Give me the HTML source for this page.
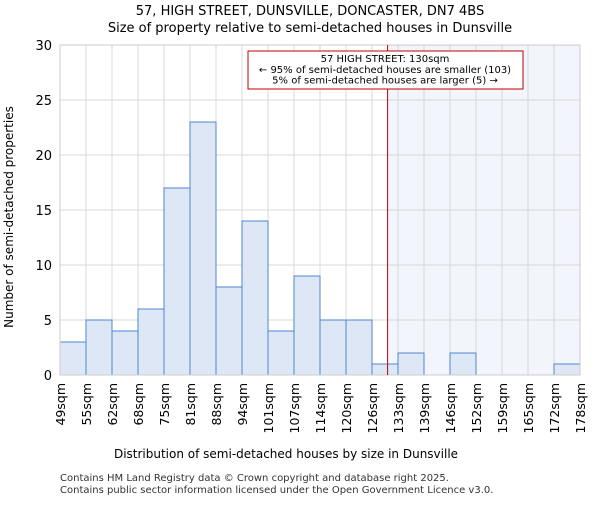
<!DOCTYPE html>
<html><head><meta charset="utf-8"><style>body{margin:0;background:#fff}svg{font-family:"DejaVu Sans","Liberation Sans",sans-serif}</style></head>
<body>
<svg id="c" width="600" height="500" xmlns="http://www.w3.org/2000/svg">
<text x="310" y="15" text-anchor="middle" font-size="13">57, HIGH STREET, DUNSVILLE, DONCASTER, DN7 4BS</text>
<text x="310" y="32" text-anchor="middle" font-size="13">Size of property relative to semi-detached houses in Dunsville</text>
<g id="plot"></g>
<text x="286" y="458" text-anchor="middle" font-size="12">Distribution of semi-detached houses by size in Dunsville</text>
<text transform="translate(13,217) rotate(-90)" text-anchor="middle" font-size="12">Number of semi-detached properties</text>
<text x="60" y="481" font-size="10" fill="#333">Contains HM Land Registry data © Crown copyright and database right 2025.</text>
<text x="60" y="493" font-size="10" fill="#333">Contains public sector information licensed under the Open Government Licence v3.0.</text>
</svg>
<script>
const categories=["49sqm","55sqm","62sqm","68sqm","75sqm","81sqm","88sqm","94sqm","101sqm","107sqm","114sqm","120sqm","126sqm","133sqm","139sqm","146sqm","152sqm","159sqm","165sqm","172sqm","178sqm"];
const counts=[3,5,4,6,17,23,8,14,4,9,5,5,1,2,0,2,0,0,0,1];
const yTicks=[0,5,10,15,20,25,30];
const markerIndex=12.6;
const annotation=["57 HIGH STREET: 130sqm","← 95% of semi-detached houses are smaller (103)","5% of semi-detached houses are larger (5) →"];
const NS="http://www.w3.org/2000/svg";
const L=60,R=580,T=45,B=375,yMax=30;
const bw=(R-L)/counts.length;
const x=i=>L+i*bw, y=v=>B-(B-T)*v/yMax;
const g=document.getElementById('plot');
function mk(t,a,p){const e=document.createElementNS(NS,t);for(const k in a)e.setAttribute(k,a[k]);(p||g).appendChild(e);return e;}
let e=mk('rect',{x:x(markerIndex),y:T,width:R-x(markerIndex),height:B-T,fill:'#f3f5fc'});


yTicks.forEach(v=>{let l=mk('line',{x1:L,x2:R,y1:y(v),y2:y(v),stroke:'#d8d8d8'});


let t=mk('text',{x:L-8,y:y(v)+5,'text-anchor':'end','font-size':13});t.textContent=v;

});
categories.forEach((c,i)=>{let l=mk('line',{x1:x(i),x2:x(i),y1:T,y2:B,stroke:'#d8d8d8'});


let t=mk('text',{transform:`translate(${x(i)+5},${B+8}) rotate(-90)`,'text-anchor':'end','font-size':12.5});t.textContent=c;

});
counts.forEach((v,i)=>{if(v<=0)return;let r=mk('rect',{x:x(i),y:y(v),width:bw,height:B-y(v),fill:'#dde7f5',stroke:'#4f86d4','stroke-width':1});

});
e=mk('line',{x1:L,x2:R,y1:B,y2:B,stroke:'#bbb'});


e=mk('rect',{x:L,y:T,width:R-L,height:B-T,fill:'none',stroke:'#ccc'});


e=mk('line',{x1:x(markerIndex),x2:x(markerIndex),y1:T,y2:B,stroke:'#c00000','stroke-width':1});


e=mk('rect',{x:248,y:51,width:275,height:38,fill:'#fff',stroke:'#c00000'});


annotation.forEach((s,i)=>{let t=mk('text',{x:385,y:62+i*10.8,'text-anchor':'middle','font-size':10});t.textContent=s;

});
</script>
</body></html>
